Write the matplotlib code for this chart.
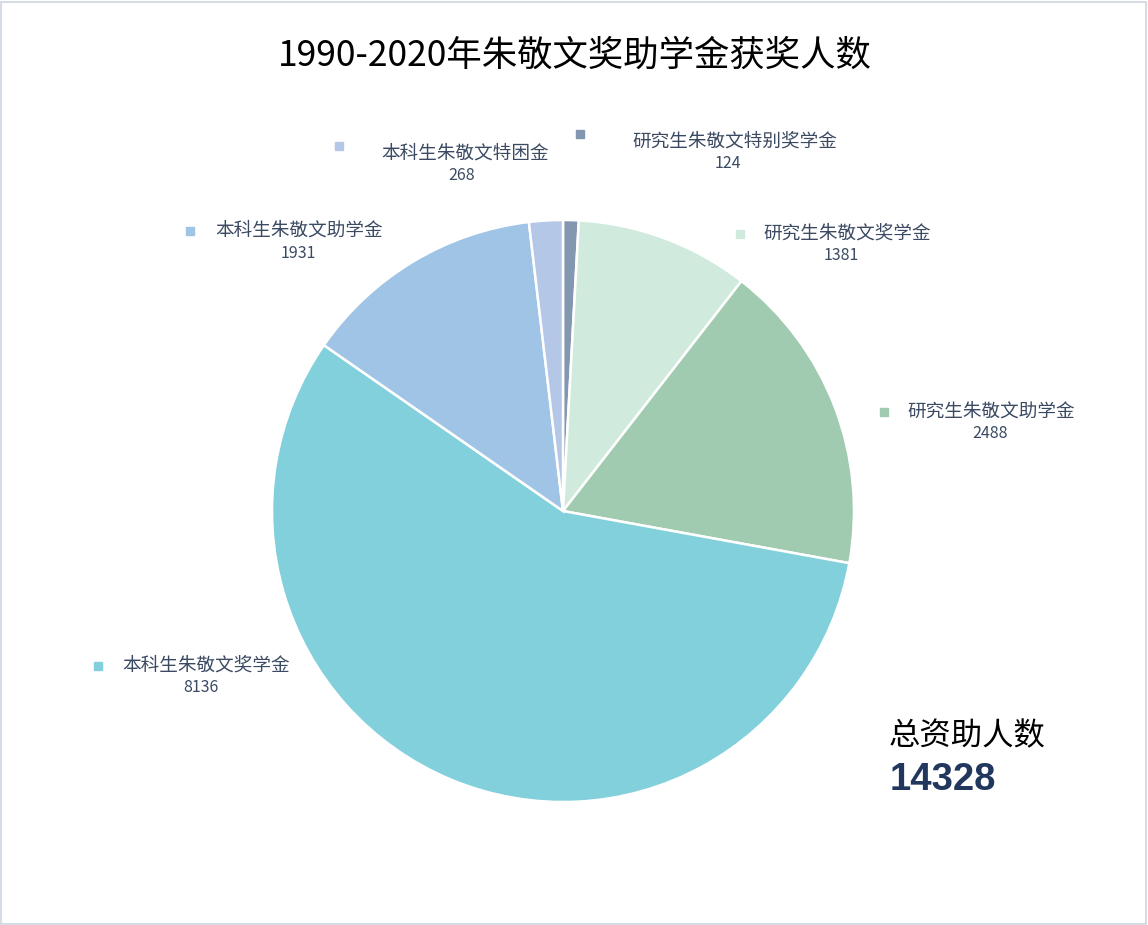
import matplotlib
matplotlib.use("Agg")
import matplotlib.pyplot as plt
from matplotlib.patches import Rectangle

plt.rcParams['font.family'] = ['Noto Sans CJK SC', 'DejaVu Sans']

# Award categories, clockwise from 12 o'clock
categories = ["研究生朱敬文特别奖学金", "研究生朱敬文奖学金", "研究生朱敬文助学金",
              "本科生朱敬文奖学金", "本科生朱敬文助学金", "本科生朱敬文特困金"]
recipients = [124, 1381, 2488, 8136, 1931, 268]
colors = ["#8497b0", "#d0ebdd", "#a0cbb1", "#82d0dc", "#9fc4e6", "#b4c7e7"]
title = "1990-2020年朱敬文奖助学金获奖人数"
total_caption = "总资助人数"

# Label layout in pixel space (marker x, marker y, text x, value x)
label_layout = [
    (580, 134, 632, 728),
    (740, 234, 763, 841),
    (884, 412, 907, 990),
    (98, 666, 122, 201),
    (190, 231, 215, 298),
    (339, 146, 381, 462),
]

W, H = 1148, 925
fig = plt.figure(figsize=(W / 100, H / 100), dpi=100)
ax = fig.add_axes([0, 0, 1, 1])


def py(y):
    return H - y


explode = [0.014 if v == max(recipients) else 0 for v in recipients]
ax.pie(recipients, colors=colors, startangle=90, counterclock=False,
       center=(563, py(511)), radius=291, explode=explode,
       wedgeprops=dict(edgecolor="white", linewidth=1.8))

text_color = "#3b4a62"
for name, val, col, (mx, my, tx, vx) in zip(categories, recipients, colors, label_layout):
    ax.plot(mx, py(my), marker="s", markersize=5.8, color=col, linestyle="none")
    ty = my + 8 if name.endswith(("特困金", "特别奖学金")) else my
    ax.text(tx, py(ty), name, fontsize=13.4, color=text_color,
            ha="left", va="center")
    ax.text(vx, py(ty + 22), f"{val}", fontsize=11.5, color=text_color,
            ha="center", va="center")

ax.text(575, py(56), title, fontsize=25.5, color="black", ha="center", va="center")

ax.text(889, py(736), total_caption, fontsize=22.6, color="black", ha="left", va="center")
ax.text(890, py(780), f"{sum(recipients)}", fontsize=27.5, fontweight="bold",
        family="Liberation Sans", color="#22375e", ha="left", va="center")

ax.set_xlim(0, W)
ax.set_ylim(0, H)
ax.set_aspect("equal", adjustable="box")
ax.axis("off")

# light frame around the whole chart
fig.patches.append(Rectangle((1, 1), W - 3, H - 3, transform=None, fill=False,
                             edgecolor="#d6dce6", linewidth=1.5))

fig.savefig("out.png", dpi=100, facecolor="white")
